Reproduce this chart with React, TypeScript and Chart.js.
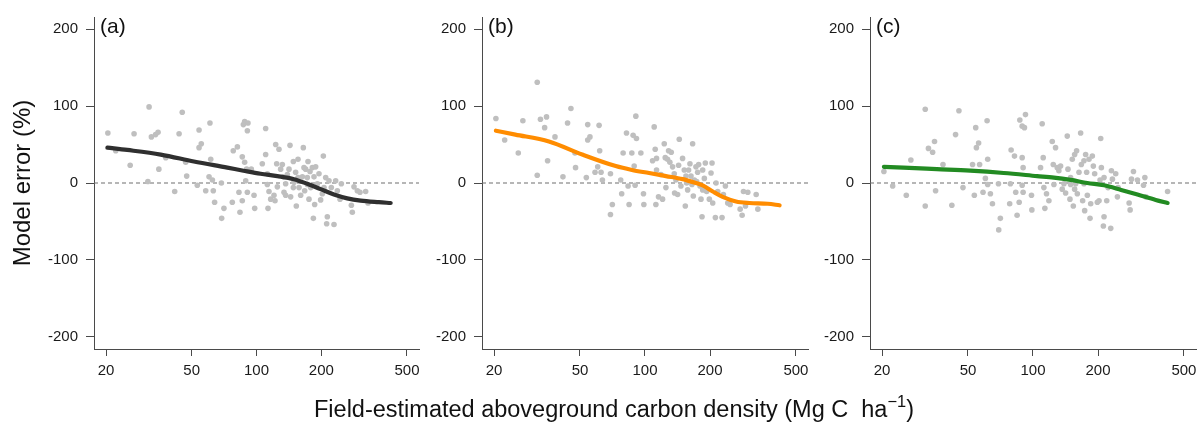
import React, { useEffect, useRef } from "react";
import { Chart, registerables } from "chart.js";

Chart.register(...registerables);

const FONT = "'Liberation Sans', Arial, Helvetica, sans-serif";
const AXIS_COLOR = "#4a4a4a";
const DOT_COLOR = "#bfbfbf";

const xTicks = [20, 50, 100, 200, 500];
const yTicks = [-200, -100, 0, 100, 200];
const xAxisMin = 17.59;
const xAxisMax = 568.6;
const yAxisMin = -216;
const yAxisMax = 216;

const panelLabels = ["(a)", "(b)", "(c)"];
const lineColors = ["#2f2f2f", "#ff8c00", "#228b22"];
const yTitle = "Model error (%)";

// Panel (a): field-estimated carbon density vs. model error (%)
const pointsA: [number, number][] = [
  [20.4, 65], [22.2, 42], [25.9, 23], [27.0, 64], [31.3, 2], [31.7, 99], [32.5, 60], [34.0, 63], [34.9, 66], [35.2, 18],
  [37.9, 33], [41.7, -11], [43.7, 64], [45.2, 92], [46.9, 27], [47.4, 9], [53.1, -3], [54.1, 69], [54.1, 46], [55.4, 51],
  [58.1, -10], [60.8, 78], [61.3, 31], [60.2, 8], [62.4, 4], [63.0, -10], [63.9, -25], [68.7, 0], [68.9, -46], [70.6, -33],
  [77.2, -25], [78.0, 42], [81.5, 47], [82.9, -12], [83.8, -38], [85.9, 34], [86.9, 76], [88.1, 80], [91.3, 78], [90.7, 68],
  [88.1, 27], [90.0, 18], [89.1, 3], [90.7, -12], [85.9, -23], [94.6, 18], [97.4, -16], [98.1, -33], [106.4, 25], [110.3, 71],
  [110.3, 37], [112.3, -2], [112.3, 12], [113.1, -33], [114.3, -11], [116.4, -21], [120.6, -16], [121.9, -23], [122.8, 50], [124.1, 25],
  [127.2, 44], [125.0, -5], [129.5, 18], [131.8, 24], [133.2, 8], [134.2, -12], [136.6, -1], [139.1, 11], [141.6, 18], [143.1, 49],
  [144.1, -18], [148.3, 28], [149.3, 1], [152.0, 14], [153.1, -30], [155.9, 31], [157.6, -6], [160.4, -16], [163.3, 8], [165.0, 46],
  [166.2, 20], [169.2, 18], [172.2, 7], [173.5, 28], [175.3, -21], [177.2, 15], [178.5, -6], [181.7, 20], [183.7, -46], [185.0, 8],
  [186.3, -28], [188.3, 21], [191.7, -1], [195.1, 12], [198.6, -22], [202.2, -14], [204.4, 35], [205.9, -6], [209.6, 7], [213.3, -44],
  [211.8, -53], [217.2, 3], [222.6, -6], [229.1, -54], [233.2, 3], [237.4, -10], [244.3, -21], [247.8, -1], [275.8, -29], [278.7, -38],
  [283.7, -5], [294.0, -10], [302.5, -12], [321.4, -11], [329.6, -26], [172.2, -2], [167.4, -10], [155.9, 7], [148.3, -6], [136.6, -16],
];

const fitA: [number, number][] = [
  [20.3, 46], [25.1, 43], [35.9, 37], [51.2, 28], [73.2, 20], [87, 16], [104.5, 12], [125, 9], [149.3, 5],
  [172, -1], [198.6, -8], [229, -15], [264, -20], [304.6, -23], [370, -25], [420, -26],
];

// Panel (b)
const pointsB: [number, number][] = [
  [20.4, 84], [22.4, 56], [25.9, 39], [27.2, 81], [31.7, 131], [31.7, 10], [32.8, 83], [34.3, 72], [35.0, 86], [35.4, 29],
  [38.3, 60], [41.7, 8], [43.8, 78], [45.4, 97], [47.4, 39], [47.7, 20], [53.5, 7], [54.3, 76], [54.3, 56], [55.6, 60],
  [58.7, 14], [60.4, 21], [61.3, 75], [61.7, 42], [62.6, 14], [63.5, 4], [69.2, 12], [69.2, -41], [70.6, -28], [77.2, 4],
  [78.0, -14], [79.2, 39], [82.1, 65], [83.5, -4], [84.4, -28], [86.9, 39], [88.1, 62], [90.7, 87], [91.3, 58], [89.1, 22],
  [90.0, -3], [95.7, 39], [98.4, -14], [98.8, -28], [108.4, 29], [110.3, 73], [111.5, 44], [113.1, 32], [113.1, 17], [112.3, -28],
  [115.5, -18], [118.5, 11], [120.6, -21], [122.8, 51], [124.1, 33], [125.0, -6], [127.2, 31], [128.6, 42], [130.4, 27], [132.3, 40],
  [134.2, 21], [136.6, 12], [137.1, -13], [139.1, 4], [141.6, -15], [143.1, 23], [144.1, 57], [146.7, -4], [149.3, 32], [152.0, 17],
  [153.7, -30], [155.9, 0], [157.6, -9], [159.2, 17], [161.5, 25], [163.3, 9], [166.2, 51], [167.4, -17], [169.2, 4], [172.2, 21],
  [175.3, 14], [177.2, 24], [179.8, -4], [181.7, -21], [183.7, -44], [185.0, 17], [188.3, 6], [190.3, 26], [193.0, -11], [198.6, -21],
  [202.2, 13], [204.4, 26], [205.9, -26], [211.8, -45], [213.3, 0], [217.2, -11], [227.4, -45], [230.7, -15], [235.7, -4], [241.6, -26],
  [247.8, -28], [275.8, -34], [281.7, -42], [285.8, -11], [291.9, -30], [299.3, -12], [327.2, -15], [333.1, -34], [154.8, 9], [165.0, -2],
  [173.5, 2], [185.0, -9],
];

const fitB: [number, number][] = [
  [20.4, 68], [25.1, 63], [35.9, 54], [51.2, 37], [73.2, 22], [87, 17], [104.5, 13], [125, 9], [149.3, 5],
  [172, 0], [185, -3], [206, -11], [229, -18], [264, -24], [304.6, -26], [370, -27], [420, -29],
];

// Panel (c)
const pointsC: [number, number][] = [
  [20.4, 15], [22.4, -4], [25.9, -16], [27.2, 30], [31.7, 96], [31.7, -30], [32.8, 45], [34.3, 40], [35.0, 54], [35.4, -10],
  [38.3, 24], [42.1, -29], [43.8, 63], [45.4, 94], [47.4, -6], [52.5, 24], [53.5, -16], [54.3, 72], [54.7, 46], [56.0, 52],
  [56.6, 24], [58.7, -12], [60.2, 6], [61.3, 81], [61.7, 31], [61.7, -2], [63.5, -14], [64.9, -27], [69.2, -1], [69.4, -61],
  [70.6, -46], [78.0, -27], [78.6, -1], [79.2, 43], [82.1, 35], [83.2, -12], [84.4, -42], [86.3, -25], [86.9, 82], [89.1, 74],
  [91.3, 72], [92.3, 89], [89.1, 33], [90.0, 20], [89.1, -3], [90.0, -12], [98.4, -16], [98.8, -35], [110.3, 77], [111.5, 33],
  [108.4, 20], [112.3, -6], [113.5, -33], [115.5, -14], [118.5, -23], [122.8, 54], [124.1, 24], [125.0, -2], [127.2, 46], [129.5, 20],
  [131.8, 16], [134.2, 22], [136.6, -8], [139.1, -1], [144.1, 61], [145.2, 18], [148.3, -21], [149.3, -2], [152.0, 31], [153.7, -30],
  [155.9, 37], [157.6, -1], [159.2, 42], [160.4, -14], [163.3, 14], [166.2, 65], [167.4, 24], [169.8, -23], [172.2, 29], [173.5, -36],
  [175.3, 37], [177.2, 14], [178.5, -16], [181.7, 31], [183.7, -46], [185.0, -27], [188.3, 35], [190.3, 22], [193.0, 12], [198.6, -25],
  [202.2, -23], [204.4, 4], [205.9, 58], [207.3, 20], [211.8, -56], [213.3, -44], [219.5, -23], [222.6, -6], [229.1, -59], [230.7, 16],
  [233.2, 5], [241.6, 12], [246.0, -18], [247.8, -6], [278.7, -26], [281.7, -35], [285.8, 5], [291.9, 15], [304.6, 4], [324.9, -3],
  [329.6, 7], [333.1, -18], [420, -11], [172.2, -1], [155.9, -8], [149.3, 7], [141.6, -13], [213.3, 7],
];

const fitC: [number, number][] = [
  [20.4, 21], [25.1, 20], [35.9, 18], [51.2, 16], [73.2, 13], [104.5, 9], [125, 7], [149.3, 4],
  [178.5, 0], [213.3, -3], [256, -9], [304.6, -15], [370, -22], [420, -26],
];

const allPoints = [pointsA, pointsB, pointsC];
const allFits = [fitA, fitB, fitC];

// layout of the three panels (canvas box and plot area, in page pixels)
const CANVAS_H = 425;
const PLOT_TOP = 13;
const PLOT_BOTTOM = 349;
const panelBoxes = [
  { left: 0, width: 430, plotLeft: 94, plotRight: 419 },
  { left: 430, width: 390, plotLeft: 482, plotRight: 808 },
  { left: 820, width: 383, plotLeft: 870, plotRight: 1196 },
];

type PanelProps = {
  index: number;
};

function Panel({ index }: PanelProps) {
  const ref = useRef<HTMLCanvasElement | null>(null);
  const box = panelBoxes[index];

  useEffect(() => {
    const canvas = ref.current;
    if (!canvas) return;
    const label = panelLabels[index];
    const labelPlugin = {
      id: "panelLabel" + index,
      afterDraw(chart: any) {
        const { ctx, chartArea } = chart;
        ctx.save();
        ctx.font = `21px ${FONT}`;
        ctx.fillStyle = "#111111";
        ctx.textAlign = "left";
        ctx.textBaseline = "alphabetic";
        ctx.fillText(label, chartArea.left + 6, chartArea.top + 16);
        ctx.restore();
      },
    };

    const chart = new Chart(canvas, {
      type: "scatter",
      data: {
        datasets: [
          {
            data: [
              { x: xAxisMin, y: 0 },
              { x: xAxisMax, y: 0 },
            ],
            showLine: true,
            borderColor: "#6e6e6e",
            borderWidth: 1.2,
            borderDash: [4, 3],
            pointRadius: 0,
            order: 3,
          },
          {
            data: allPoints[index].map(([x, y]) => ({ x, y })),
            pointRadius: 2.8,
            pointBackgroundColor: DOT_COLOR,
            backgroundColor: DOT_COLOR,
            pointBorderWidth: 0,
            borderWidth: 0,
            showLine: false,
            order: 2,
          },
          {
            data: allFits[index].map(([x, y]) => ({ x, y })),
            showLine: true,
            borderColor: lineColors[index],
            borderWidth: 4.2,
            borderCapStyle: "round",
            borderJoinStyle: "round",
            cubicInterpolationMode: "monotone",
            pointRadius: 0,
            order: 1,
          },
        ],
      } as any,
      options: {
        responsive: false,
        maintainAspectRatio: false,
        animation: false,
        devicePixelRatio: 1,
        events: [],
        layout: {
          padding: {
            left: 0,
            right: box.left + box.width - box.plotRight,
            top: PLOT_TOP,
            bottom: 0,
          },
        },
        plugins: {
          legend: { display: false },
          tooltip: { enabled: false },
          title: { display: false },
        },
        scales: {
          x: {
            type: "logarithmic",
            min: xAxisMin,
            max: xAxisMax,
            bounds: "data",
            afterBuildTicks: (s: any) => {
              s.ticks = xTicks.map((v) => ({ value: v }));
            },
            afterFit: (s: any) => {
              s.height = CANVAS_H - PLOT_BOTTOM;
            },
            ticks: {
              callback: (v: any) => String(v),
              autoSkip: false,
              maxRotation: 0,
              minRotation: 0,
              padding: 6,
              color: "#1a1a1a",
              font: { family: FONT, size: 15 },
            },
            grid: {
              drawOnChartArea: false,
              drawTicks: true,
              tickLength: 7,
              color: AXIS_COLOR,
              lineWidth: 1,
            },
            border: { display: true, color: AXIS_COLOR, width: 1 },
          },
          y: {
            type: "linear",
            min: yAxisMin,
            max: yAxisMax,
            bounds: "data",
            afterBuildTicks: (s: any) => {
              s.ticks = yTicks.map((v) => ({ value: v }));
            },
            afterFit: (s: any) => {
              s.width = box.plotLeft - box.left;
            },
            ticks: {
              callback: (v: any) => String(v),
              autoSkip: false,
              padding: 8,
              color: "#1a1a1a",
              font: { family: FONT, size: 15 },
            },
            grid: {
              drawOnChartArea: false,
              drawTicks: true,
              tickLength: 8,
              color: AXIS_COLOR,
              lineWidth: 1,
            },
            border: { display: true, color: AXIS_COLOR, width: 1 },
            title: {
              display: index === 0,
              text: yTitle,
              color: "#111111",
              font: { family: FONT, size: 24 },
              padding: { top: 9, bottom: 0 },
            },
          },
        },
      } as any,
      plugins: [labelPlugin],
    });
    return () => chart.destroy();
  }, [index]);

  return (
    <canvas
      ref={ref}
      width={box.width}
      height={CANVAS_H}
      style={{
        position: "absolute",
        left: box.left,
        top: 0,
        width: box.width,
        height: CANVAS_H,
      }}
    />
  );
}

export default function App() {
  return (
    <div
      style={{
        position: "absolute",
        left: 0,
        top: 0,
        width: 1203,
        height: 425,
        background: "#ffffff",
        overflow: "hidden",
      }}
    >
      <Panel index={0} />
      <Panel index={1} />
      <Panel index={2} />
      <div
        style={{
          position: "absolute",
          left: 614,
          top: 397,
          transform: "translateX(-50%)",
          whiteSpace: "pre",
          fontFamily: FONT,
          fontSize: "23.5px",
          lineHeight: "24px",
          color: "#111111",
        }}
      >
        {"Field-estimated aboveground carbon density (Mg C  ha"}
        <span style={{ fontSize: "70%", position: "relative", top: "-0.6em" }}>{"\u22121"}</span>
        {")"}
      </div>
    </div>
  );
}
